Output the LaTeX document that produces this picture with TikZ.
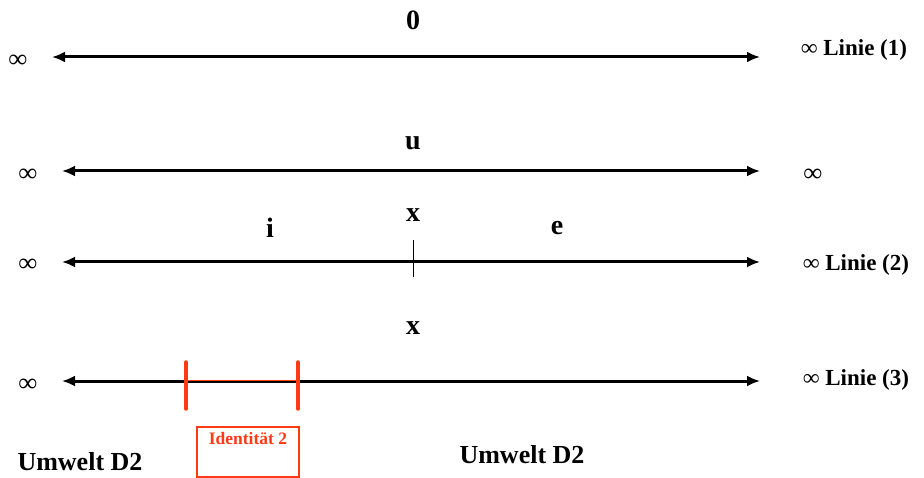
\documentclass[tikz,border=0pt]{standalone}
\usepackage{fontspec}
\setmainfont{Liberation Serif}
\usetikzlibrary{arrows.meta, positioning}
\definecolor{idRed}{HTML}{FF3B14}

\begin{document}
\begin{tikzpicture}[x=1pt, y=-1pt,
    axis/.style={line width=3pt,
                 {Latex[length=13pt,width=11pt]}-{Latex[length=13pt,width=11pt]}},
    inf/.style={font=\fontsize{26}{28}\selectfont\bfseries, inner sep=0pt},
    tag/.style={font=\fontsize{23}{26}\selectfont\bfseries, anchor=west, inner sep=0pt},
    letter/.style={font=\fontsize{28}{30}\selectfont\bfseries, inner sep=0pt},
    env/.style={font=\fontsize{26}{28}\selectfont\bfseries, inner sep=0pt},
    idtick/.style={draw=idRed, line width=3.5pt, line cap=round},
    idbox/.style={draw=idRed, color=idRed, line width=1.2pt,
                  minimum width=102pt, minimum height=50pt},
    idlabel/.style={font=\fontsize{17.5}{19}\selectfont\bfseries\color{idRed}, inner sep=0pt},
  ]
    \useasboundingbox (0,0) rectangle (924,478);

    % Linie (1)
    \coordinate (l1a) at (52,57);
    \coordinate (l1b) at (760,57);
    \draw[axis] (l1a) -- (l1b);
    \node[letter] (o) at (413,20) {0};
    \node[inf] (inf1) at (18,61) {∞};
    \node[tag] (lin1) at (801,50) {∞ Linie (1)};

    % u
    \coordinate (lua) at (62,171);
    \coordinate (lub) at (760,171);
    \draw[axis] (lua) -- (lub);
    \node[letter] (u) at (413,143) {u};
    \node[inf] (infu) at (28,175) {∞};
    \node[inf] (infur) at (813,175) {∞};

    % Linie (2)
    \coordinate (l2a) at (62,262);
    \coordinate (l2b) at (760,262);
    \draw[axis] (l2a) -- (l2b);
    \coordinate (xt) at (413,240);
    \coordinate (xb) at (413,277);
    \draw[line width=0.8pt] (xt) -- (xb);
    \node[letter] (x2) at (413,215) {x};
    \node[letter] (i) at (270,228) {i};
    \node[letter] (e) at (557,228) {e};
    \node[inf] (inf2) at (28,265) {∞};
    \node[tag] (lin2) at (803,265) {∞ Linie (2)};

    % Linie (3)
    \coordinate (l3a) at (62,381);
    \coordinate (l3b) at (760,381);
    \draw[axis] (l3a) -- (l3b);
    \node[letter] (x3) at (413,328) {x};
    \node[inf] (inf3) at (28,385) {∞};
    \node[tag] (lin3) at (803,380) {∞ Linie (3)};

    % Identitaet 2
    \coordinate (t1a) at (186,362);
    \coordinate (t1b) at (186,409);
    \coordinate (t2a) at (298,362);
    \coordinate (t2b) at (298,409);
    \coordinate (s1) at (186,380);
    \coordinate (s2) at (298,380);
    \draw[idRed, line width=1pt] (s1) -- (s2);
    \draw[idtick] (t1a) -- (t1b);
    \draw[idtick] (t2a) -- (t2b);
    \node[idbox] (id2) at (248,452) {};
    \node[idlabel, below=6pt of id2.north] (id2t) {Identität 2};

    \node[env] (uml) at (80,462) {Umwelt D2};
    \node[env] (umr) at (522,455) {Umwelt D2};
\end{tikzpicture}
\end{document}
